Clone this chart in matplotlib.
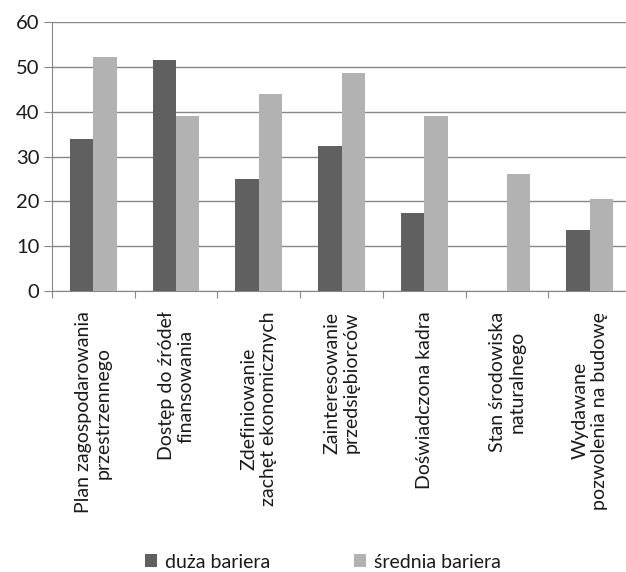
import matplotlib
matplotlib.use("Agg")
import matplotlib.pyplot as plt
import numpy as np

categories = [
    "Plan zagospodarowania\nprzestrzennego",
    "Dostęp do źródeł\nfinansowania",
    "Zdefiniowanie\nzachęt ekonomicznych",
    "Zainteresowanie\nprzedsiębiorców",
    "Doświadczona kadra",
    "Stan środowiska\nnaturalnego",
    "Wydawane\npozwolenia na budowę",
]
duza = [34.0, 51.6, 25.0, 32.4, 17.3, 0.0, 13.5]
srednia = [52.1, 39.0, 44.0, 48.7, 39.0, 26.0, 20.5]
series_names = ["duża bariera", "średnia bariera"]

plt.rcParams['font.family'] = ['Lato', 'DejaVu Sans']

fig = plt.figure(figsize=(6.26, 5.72), dpi=100)
ax = fig.add_axes([52 / 626, 1 - 291 / 572, 579 / 626, 269 / 572])

x = np.arange(len(categories))
w = 0.282
ax.bar(x - w / 2, duza, w, color='#606060', label=series_names[0], zorder=3)
ax.bar(x + w / 2, srednia, w, color='#b2b2b2', label=series_names[1], zorder=3)

ax.set_xlim(-0.5, len(categories) - 0.5)
ax.set_ylim(0, 60)
ax.set_yticks(range(0, 61, 10))
ax.yaxis.grid(True, color='#878787', linewidth=1, zorder=0)
ax.tick_params(axis='y', length=6, color='#878787', labelsize=14.5, pad=3,
               labelcolor='#1a1a1a')

ax.set_xticks(np.arange(len(categories) + 1) - 0.5)
ax.set_xticklabels([])
ax.tick_params(axis='x', length=5, color='#878787')
for xi, lab in zip(x, categories):
    ax.text(xi, -4.6, lab, rotation=90, ha='center', va='top',
            multialignment='center', fontsize=14, linespacing=1.2,
            color='#1a1a1a')

for s in ['top', 'right']:
    ax.spines[s].set_visible(False)
for s in ['left', 'bottom']:
    ax.spines[s].set_color('#878787')

fig.legend(loc='center', bbox_to_anchor=(0.516, 1 - 562 / 572), ncol=2,
           frameon=False, fontsize=14, handlelength=0.62, handleheight=0.62,
           handletextpad=0.4, columnspacing=4.3, labelcolor='#1a1a1a')

fig.savefig('out.png', dpi=100)
